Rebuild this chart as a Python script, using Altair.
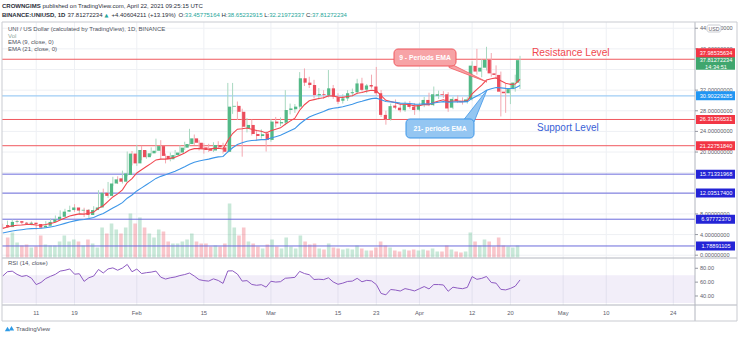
import altair as alt
import pandas as pd
import numpy as np

# ---------------- data ----------------
START = "2021-01-04"
opens = [
    5.85, 5.45, 6.45, 6.60, 6.30, 6.10, 6.30, 6.05, 5.35, 5.70, 6.45, 6.95, 7.45, 8.45,
    8.75, 9.25, 8.65, 8.80, 7.80, 8.75, 9.25, 12.10, 11.50, 13.90, 14.90, 14.25, 15.55, 19.70,
    17.80, 20.40, 19.00, 19.75, 20.25, 21.15, 19.25, 18.60, 19.40, 19.90, 20.85, 21.55, 22.65, 21.80,
    20.90, 20.70, 20.30, 21.35, 20.90, 20.05, 28.80, 28.95, 27.80, 24.60, 25.25, 23.50, 23.10, 23.60,
    22.35, 25.90, 25.55, 25.70, 28.15, 28.30, 28.80, 34.30, 33.45, 33.00, 31.00, 31.25, 31.00, 32.35,
    30.60, 29.95, 30.40, 31.40, 31.60, 33.30, 32.10, 33.00, 32.70, 31.40, 27.20, 26.40, 29.00, 28.60,
    28.10, 29.25, 28.80,
    28.20, 29.10, 30.10, 29.10, 30.90, 31.20, 31.20, 28.60, 30.30, 29.90, 29.70, 30.20, 36.70, 35.60,
    36.35, 37.85, 35.25, 34.95, 31.70, 31.40, 32.20, 33.45775164]
highs = [
    6.10, 6.70, 6.90, 6.85, 6.60, 6.45, 6.55, 6.20, 5.90, 6.60, 7.10, 7.70, 8.70, 9.00,
    9.60, 9.90, 9.00, 9.20, 8.95, 9.50, 12.60, 12.90, 14.20, 15.20, 15.30, 16.40, 20.10, 20.20,
    21.40, 21.20, 20.30, 20.90, 22.60, 22.30, 19.70, 19.90, 20.40, 21.30, 22.00, 24.50, 23.40, 22.30,
    21.70, 21.60, 21.90, 22.10, 21.80, 33.40, 33.40, 29.80, 28.40, 26.60, 26.30, 24.30, 24.40, 24.00,
    26.40, 26.80, 26.70, 32.00, 29.40, 29.30, 35.50, 36.20, 34.60, 34.00, 32.40, 32.00, 35.90, 33.00,
    31.40, 31.20, 32.00, 32.30, 34.20, 34.40, 33.20, 35.00, 36.50, 32.00, 28.00, 29.40, 30.20, 29.30,
    29.80, 29.90, 29.50,
    29.60, 30.70, 31.50, 32.70, 31.90, 31.80, 31.60, 30.70, 31.00, 30.60, 30.60, 37.60, 40.00, 38.00,
    40.40, 39.20, 36.80, 35.60, 33.30, 33.40, 35.00, 38.65232915]
lows = [
    5.15, 5.30, 6.20, 6.15, 5.90, 5.95, 5.80, 4.95, 5.10, 5.50, 6.30, 6.60, 7.30, 8.10,
    8.40, 8.40, 7.90, 7.40, 7.10, 8.55, 9.10, 11.20, 11.10, 13.40, 13.80, 13.90, 15.30, 17.40,
    17.30, 18.40, 18.70, 19.30, 19.90, 18.60, 17.80, 18.20, 19.00, 19.40, 20.40, 21.20, 21.40, 20.30,
    19.70, 20.00, 20.00, 20.60, 19.70, 19.80, 27.40, 26.20, 19.10, 23.80, 23.20, 22.20, 22.60, 20.10,
    22.00, 24.80, 25.00, 25.20, 27.30, 27.60, 28.40, 32.80, 32.40, 30.40, 30.20, 30.30, 30.60, 30.30,
    29.30, 29.40, 29.90, 30.80, 31.20, 31.70, 31.40, 32.30, 30.90, 26.80, 25.30, 26.10, 28.30, 27.70,
    27.80, 28.40, 27.20,
    27.90, 28.70, 28.90, 28.90, 30.30, 30.50, 27.80, 28.30, 29.50, 29.20, 29.40, 30.00, 35.00, 34.50,
    35.80, 34.60, 34.30, 26.90, 27.60, 29.30, 31.70, 32.21972337]
closes = [
    5.40, 6.45, 6.60, 6.30, 6.10, 6.30, 6.05, 5.35, 5.70, 6.45, 6.95, 7.45, 8.45, 8.75,
    9.25, 8.65, 8.80, 7.80, 8.75, 9.25, 12.10, 11.50, 13.90, 14.70, 14.25, 15.85, 19.70, 17.80,
    20.40, 19.00, 19.75, 20.25, 21.15, 19.25, 18.60, 19.40, 19.90, 20.85, 21.55, 22.65, 21.80, 20.70,
    20.40, 20.25, 21.35, 20.90, 20.05, 28.80, 28.95, 27.80, 24.90, 25.25, 23.50, 23.10, 23.45, 22.35,
    25.90, 25.55, 25.80, 28.15, 28.45, 28.80, 34.30, 33.45, 33.00, 31.05, 31.25, 31.10, 32.35, 30.75,
    29.75, 30.40, 31.40, 31.60, 33.30, 32.05, 32.90, 32.70, 31.40, 27.20, 26.35, 28.90, 28.60, 28.10,
    29.25, 28.75, 28.15,
    29.10, 30.10, 29.10, 31.20, 31.20, 31.05, 28.45, 30.30, 29.90, 29.65, 30.20, 36.75, 35.60, 36.35,
    37.85, 35.25, 34.95, 31.70, 31.40, 32.20, 33.46, 37.81272234]
volumes = [
    20, 25, 15, 12, 13, 10, 11, 22, 13, 12, 12, 16, 22, 16,
    18, 16, 12, 18, 14, 10, 30, 24, 34, 28, 24, 30, 44, 34,
    40, 30, 24, 20, 28, 26, 16, 14, 14, 16, 18, 24, 16, 14,
    14, 11, 12, 11, 14, 54, 30, 22, 30, 16, 14, 11, 9, 13,
    18, 11, 9, 20, 11, 9, 22, 16, 13, 14, 9, 8, 14, 10,
    9, 8, 9, 8, 12, 9, 7, 7, 10, 16, 12, 10, 7, 6,
    8, 7, 8,
    7, 8, 7, 9, 6, 6, 12, 8, 6, 5, 6, 25, 16, 12,
    18, 16, 11, 20, 12, 11, 10, 12]

levels_red = [37.98535634, 26.31336531, 21.22751840]
levels_lightblue = [30.90229285]
levels_blue = [15.71331968, 12.03517400, 6.97772370, 1.78891105]
last_price = 37.81272234
price_grid = list(range(0, 45, 4))
price_tick_labels = [0, 4, 8, 20, 24, 28, 32, 40, 44]   # the others sit under the coloured badges
rsi_ticks = [40, 60, 80]
time_tick_dates = ["2021-01-11", "2021-01-19", "2021-02-01", "2021-02-15", "2021-03-01",
                   "2021-03-15", "2021-03-23", "2021-04-01", "2021-04-12", "2021-04-20",
                   "2021-05-01", "2021-05-10", "2021-05-24"]
time_tick_labels = ["11", "19", "Feb", "15", "Mar", "15", "23", "Apr", "12", "20", "May", "10", "24"]

EMA9_SEED, EMA21_SEED = 5.2, 4.3
RSI_SEED_GAIN, RSI_SEED_LOSS = 0.22, 0.10

# ---------------- derived series ----------------
ORIGIN = pd.Timestamp("2021-01-01")
dates = pd.date_range(START, periods=len(closes), freq="D")
tday = np.asarray((dates - ORIGIN).days, dtype=float)


def ema(vals, n, seed):
    a = 2.0 / (n + 1)
    out, prev = [], seed
    for i, v in enumerate(vals):
        if i > 0:
            prev = prev + a * (v - prev)
        out.append(prev)
    return out


def rsi(vals, n, g0, l0):
    ag, al = g0, l0
    out = [100 - 100 / (1 + ag / al)]
    for i in range(1, len(vals)):
        d = vals[i] - vals[i - 1]
        ag = (ag * (n - 1) + max(d, 0)) / n
        al = (al * (n - 1) + max(-d, 0)) / n
        out.append(100 - 100 / (1 + ag / al))
    return out


df = pd.DataFrame({"t": tday, "o": opens, "h": highs, "l": lows, "c": closes, "v": volumes})
diff = df.c - df.o
df["cb"] = np.where(diff.abs() < 0.15, df.o + np.where(diff >= 0, 0.15, -0.15), df.c)
df["ema9"] = ema(closes, 9, EMA9_SEED)
df["ema21"] = ema(closes, 21, EMA21_SEED)
df["rsi"] = rsi(closes, 14, RSI_SEED_GAIN, RSI_SEED_LOSS)

ticks_t = pd.DataFrame({"t": np.asarray((pd.to_datetime(time_tick_dates) - ORIGIN).days, dtype=float),
                        "lab": time_tick_labels})
pg = pd.DataFrame({"v": price_grid})
pt = pd.DataFrame({"v": price_tick_labels, "lab": [f"{v:.8f}" for v in price_tick_labels]})
rt = pd.DataFrame({"v": rsi_ticks, "lab": [f"{v:.2f}" for v in rsi_ticks]})

# ---------------- scales ----------------
XS = alt.Scale(domain=[2.858, 147.53], nice=False, zero=False)
PY = alt.Scale(domain=[-9.655, 45.21], nice=False, zero=False)
VY = alt.Scale(domain=[-47.5, 235.5], nice=False, zero=False)
RY = alt.Scale(domain=[27.0, 435.4], nice=False, zero=False)

FONT = "Liberation Sans"
UP, DN = "#53b987", "#eb4d5c"
UPW, DNW = "#a8d8c0", "#f3a9b1"
GRID = "#eef0f4"
AXIS_TXT = "#5d606b"


def X(f="t"):
    return alt.X(f"{f}:Q", scale=XS, axis=None)


def P(f):
    return alt.Y(f"{f}:Q", scale=PY, axis=None)


cond = lambda a, b: alt.condition("datum.c >= datum.o", alt.value(a), alt.value(b))


def ptext(rows, **kw):
    d = pd.DataFrame(rows, columns=["px", "py", "txt"])
    kw.setdefault("font", FONT)
    return alt.Chart(d).mark_text(**kw).encode(
        x=alt.X("px:Q", scale=None, axis=None), y=alt.Y("py:Q", scale=None, axis=None), text="txt:N")


def pshape(rows, mark="rule", **kw):
    d = pd.DataFrame(rows, columns=["x", "y", "x2", "y2"])
    m = getattr(alt.Chart(d), "mark_" + mark)(**kw)
    return m.encode(x=alt.X("x:Q", scale=None, axis=None), x2="x2:Q",
                    y=alt.Y("y:Q", scale=None, axis=None), y2="y2:Q")


base = alt.Chart(df)

# grids
vgrid = alt.Chart(ticks_t).mark_rule(color=GRID, strokeWidth=1).encode(x=X())
hgrid = alt.Chart(pg).mark_rule(color=GRID, strokeWidth=1).encode(y=P("v"))

# volume
vol = base.mark_bar(size=3.6, opacity=0.32).encode(
    x=X(), y=alt.Y("v:Q", scale=VY, axis=None), y2=alt.datum(0), color=cond(UP, DN))

# levels
lv_red = alt.Chart(pd.DataFrame({"lv": levels_red})).mark_rule(color="#f0595f", strokeWidth=1).encode(y=P("lv"))
lv_lb = alt.Chart(pd.DataFrame({"lv": levels_lightblue})).mark_rule(color="#9fcdf5", strokeWidth=1.2).encode(y=P("lv"))
lv_blue = alt.Chart(pd.DataFrame({"lv": levels_blue})).mark_rule(color="#6b6bdc", strokeWidth=1).encode(y=P("lv"))

# candles
wick = base.mark_rule(strokeWidth=1).encode(x=X(), y=P("l"), y2="h:Q", color=cond(UPW, DNW))
body = base.mark_bar(size=3.2).encode(x=X(), y=P("o"), y2="cb:Q", color=cond(UP, DN))

# EMAs
e9 = base.mark_line(color="#f0464f", strokeWidth=1.1).encode(x=X(), y=P("ema9"))
e21 = base.mark_line(color="#3d96e8", strokeWidth=1.1).encode(x=X(), y=P("ema21"))

# RSI pane
rband = alt.Chart(pd.DataFrame({"a": [70], "b": [30]})).mark_rect(color="#7e57c2", opacity=0.1).encode(
    x=alt.value(0), x2=alt.value(693), y=alt.Y("a:Q", scale=RY, axis=None), y2="b:Q")
rline = base.mark_line(color="#8e5bc2", strokeWidth=1).encode(x=X(), y=alt.Y("rsi:Q", scale=RY, axis=None))

# separators & frame
frame = pshape([[0, 0, 735, 299]], mark="rect", fill=None, stroke="#c9cbd1", strokeWidth=1)
seps = pshape([[0, 236, 735, 236], [0, 283, 735, 283], [693, 0, 693, 299]], color="#b2b5be", strokeWidth=1)

# price axis labels
p_ticks = alt.Chart(pt).mark_rule(color="#9598a1").encode(x=alt.value(693), x2=alt.value(696), y=P("v"))
p_labs = alt.Chart(pt).mark_text(align="left", fontSize=5.6, font=FONT, color=AXIS_TXT).encode(
    x=alt.value(698), y=P("v"), text="lab:N")
r_ticks = alt.Chart(rt).mark_rule(color="#9598a1").encode(
    x=alt.value(693), x2=alt.value(696), y=alt.Y("v:Q", scale=RY, axis=None))
r_labs = alt.Chart(rt).mark_text(align="left", fontSize=5.6, font=FONT, color=AXIS_TXT).encode(
    x=alt.value(698), y=alt.Y("v:Q", scale=RY, axis=None), text="lab:N")
t_labs = alt.Chart(ticks_t).mark_text(fontSize=5.8, font=FONT, color=AXIS_TXT).encode(
    x=X(), y=alt.value(290.5), text="lab:N")


# badges on price axis
def badge(vals, color, off=0.0, sw=9):
    d = pd.DataFrame({"lv": vals, "lab": [f"{v:.8f}" for v in vals]})
    r = alt.Chart(d).mark_rule(color=color, strokeWidth=sw, yOffset=off).encode(
        x=alt.value(694), x2=alt.value(733), y=P("lv"))
    t = alt.Chart(d).mark_text(color="white", fontSize=5.6, font=FONT, yOffset=off).encode(
        x=alt.value(714), y=P("lv"), text="lab:N")
    return r + t


b_res = badge([levels_red[0]], "#f23645", off=-6.6)
b_red = badge(levels_red[1:], "#f23645")
b_lb = badge(levels_lightblue, "#2196f3")
b_blue = badge(levels_blue, "#2424d6")
lp = pd.DataFrame({"lv": [last_price], "lab": [f"{last_price:.8f}"], "cd": ["14:34:51"]})
b_last = (alt.Chart(lp).mark_rule(color="#3fa66e", strokeWidth=13, yOffset=3.1).encode(
    x=alt.value(694), x2=alt.value(733), y=P("lv"))
    + alt.Chart(lp).mark_text(color="white", fontSize=5.6, font=FONT, yOffset=0).encode(
        x=alt.value(714), y=P("lv"), text="lab:N")
    + alt.Chart(lp).mark_text(color="white", fontSize=5.6, font=FONT, yOffset=6.6).encode(
        x=alt.value(714), y=P("lv"), text="cd:N"))
usd = (pshape([[705, 3, 719, 10]], mark="rect", fill="white", stroke="#c9cbd1", cornerRadius=2)
       + ptext([[712, 6.6, "USD"]], fontSize=5.2, color=AXIS_TXT))

# annotations (drawings)
red_tail = alt.Chart(pd.DataFrame({"x": [447, 485], "y": [41, 60], "y2": [45.5, 60]})).mark_area(
    color="#f7a3a6", stroke="#f0595f", strokeWidth=0.8).encode(
    x=alt.X("x:Q", scale=None, axis=None), y=alt.Y("y:Q", scale=None, axis=None), y2="y2:Q")
red_box = pshape([[392, 27, 454, 44]], mark="rect", fill="#f7a3a6", stroke="#f0595f", strokeWidth=1, cornerRadius=4)
red_txt = ptext([[423, 35.5, "9 - Periods EMA"]], fontSize=6.8, fontWeight="bold", color="white")
blue_tail = alt.Chart(pd.DataFrame({"y": [100, 68], "x": [460, 485], "x2": [472, 485]})).mark_area(
    orient="horizontal", color="#94c6f2", stroke="#3d96e8", strokeWidth=0.8).encode(
    y=alt.Y("y:Q", scale=None, axis=None), x=alt.X("x:Q", scale=None, axis=None), x2="x2:Q")
blue_box = pshape([[404, 97, 472, 116]], mark="rect", fill="#94c6f2", stroke="#3d96e8", strokeWidth=1, cornerRadius=4)
blue_txt = ptext([[438, 106.5, "21- periods EMA"]], fontSize=6.8, fontWeight="bold", color="white")
res_txt = ptext([[530, 31, "Resistance Level"]], align="left", fontSize=10.2, color="#f0474f")
sup_txt = ptext([[535, 106, "Support Level"]], align="left", fontSize=10.0, color="#3a5fd6")

# header and legends
DARK = "#2a2e39"
GREEN_T = "#26a69a"
HS = 6.0
h1 = (ptext([[0, -16, "CROWNGIMS"]], align="left", fontSize=HS, fontWeight="bold", color=DARK)
      + ptext([[40.5, -16, "published on TradingView.com, April 22, 2021 09:25:15 UTC"]],
              align="left", fontSize=HS, color=DARK))
h2 = (ptext([[0, -7, "BINANCE:UNIUSD, 1D"]], align="left", fontSize=HS, fontWeight="bold", color=DARK)
      + ptext([[65.5, -7, "37.81272234"], [109.5, -7, "+4.40604211 (+13.19%)"],
               [176.5, -7, "O:"], [219.5, -7, "H:"], [262.2, -7, "L:"], [303.9, -7, "C:"]],
              align="left", fontSize=HS, color=DARK))
tri = ptext([[102.5, -7, "▲"]], align="left", fontSize=5.0, font="DejaVu Sans", color=GREEN_T)
vals = ptext([[182.8, -7, "33.45775164"], [225.5, -7, "38.65232915"], [267.2, -7, "32.21972337"],
              [309.9, -7, "37.81272234"]], align="left", fontSize=HS, color=GREEN_T)
legend = (ptext([[6, 7.3, "UNI / US Dollar (calculated by TradingView), 1D, BINANCE"],
                 [6, 20.3, "EMA (9, close, 0)"], [6, 26.5, "EMA (21, close, 0)"]],
                align="left", fontSize=6.0, color="#50535e")
          + ptext([[6, 13.8, "Vol"]], align="left", fontSize=6.0, color="#8fa89a")
          + ptext([[6, 240.5, "RSI (14, close)"]], align="left", fontSize=6.0, color="#50535e"))
logo = (alt.Chart(pd.DataFrame({"x": [5.5, 9.5], "y": [307, 306.2]})).mark_point(
            shape="triangle-up", filled=True, size=28, color="#2e9be6", opacity=1).encode(
            x=alt.X("x:Q", scale=None, axis=None), y=alt.Y("y:Q", scale=None, axis=None))
        + ptext([[14, 306.5, "TradingView"]], align="left", fontSize=6.2, color="#50535e"))

chart = alt.layer(
    vgrid, hgrid, rband, vol, lv_red, lv_lb, lv_blue, wick, body, e9, e21, rline,
    seps, frame, p_ticks, p_labs, r_ticks, r_labs, t_labs,
    b_red, b_lb, b_blue, b_last, b_res, usd,
    red_tail, red_box, red_txt, blue_tail, blue_box, blue_txt, res_txt, sup_txt,
    h1, h2, tri, vals, legend, logo,
).resolve_scale(x="independent", y="independent").properties(
    width=693, height=283,
    padding={"left": 2, "top": 22, "right": 45, "bottom": 33},
    autosize=alt.AutoSizeParams(type="none"),
    background="white",
).configure_view(stroke=None)

chart.save("out.html", embed_options={"renderer": "svg", "actions": False})
